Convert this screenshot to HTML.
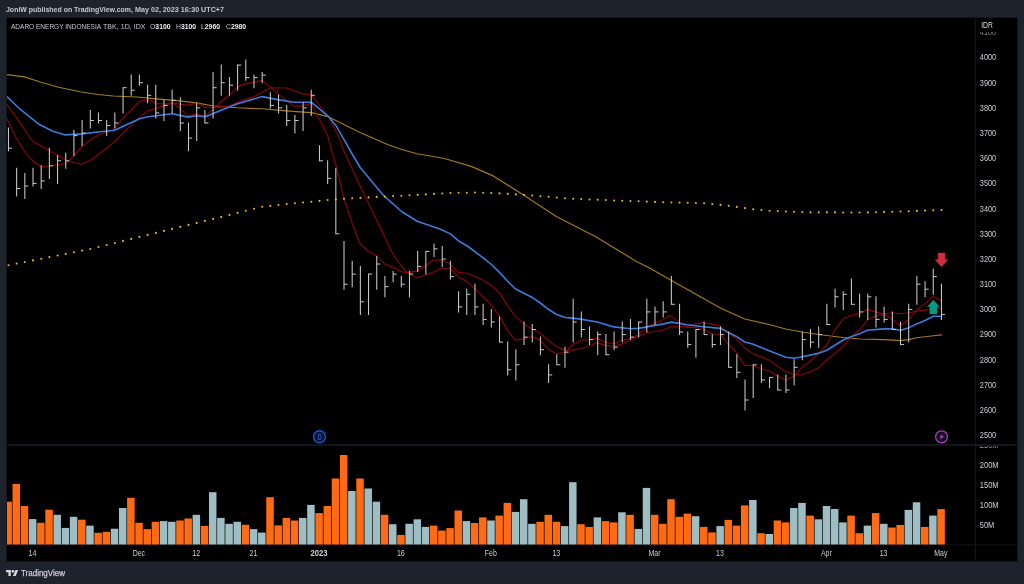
<!DOCTYPE html>
<html><head><meta charset="utf-8"><title>ADARO chart</title>
<style>
html,body{margin:0;padding:0;background:#1e222d;}
body{width:1024px;height:584px;position:relative;overflow:hidden;font-family:"Liberation Sans",sans-serif;}
.hdr{position:absolute;left:6.5px;top:4.5px;font-size:7.9px;font-weight:bold;color:#c5c8cf;white-space:nowrap;line-height:10px;transform-origin:0 0;transform:scaleX(0.891);}
.lg{position:absolute;left:11.3px;top:21.5px;font-size:7.1px;color:#c5c8cf;white-space:nowrap;line-height:10px;transform-origin:0 0;}
.lg b{color:#f0f1f4;}
.tv{position:absolute;left:21px;top:567px;font-size:8.3px;color:#c9ccd3;white-space:nowrap;line-height:12px;transform-origin:0 0;transform:scaleX(0.963);-webkit-text-stroke:0.25px #c9ccd3;}
</style></head><body>
<svg width="1024" height="584" viewBox="0 0 1024 584" style="position:absolute;left:0;top:0">
<rect x="6.5" y="17.5" width="1011" height="544" fill="#000" stroke="#14161d" stroke-width="1"/>
<line x1="7" y1="445.1" x2="1017" y2="445.1" stroke="#15161c" stroke-width="2"/>
<line x1="975.4" y1="18" x2="975.4" y2="561" stroke="#14161b" stroke-width="1"/>
<line x1="7" y1="544.8" x2="1017" y2="544.8" stroke="#14151b" stroke-width="1"/>
<clipPath id="c"><rect x="7" y="18" width="968" height="427"/></clipPath>
<rect x="7.00" y="501.7" width="4.87" height="42.8" fill="#ff6a14"/>
<rect x="12.55" y="484.0" width="7.50" height="60.5" fill="#ff6a14"/>
<rect x="20.74" y="506.0" width="7.50" height="38.5" fill="#ff6a14"/>
<rect x="28.92" y="519.1" width="7.50" height="25.4" fill="#9ebec3"/>
<rect x="37.11" y="522.8" width="7.50" height="21.7" fill="#ff6a14"/>
<rect x="45.29" y="509.7" width="7.50" height="34.8" fill="#ff6a14"/>
<rect x="53.47" y="514.8" width="7.50" height="29.7" fill="#9ebec3"/>
<rect x="61.66" y="527.9" width="7.50" height="16.6" fill="#9ebec3"/>
<rect x="69.84" y="516.8" width="7.50" height="27.7" fill="#9ebec3"/>
<rect x="78.03" y="519.7" width="7.50" height="24.8" fill="#ff6a14"/>
<rect x="86.21" y="525.6" width="7.50" height="18.9" fill="#9ebec3"/>
<rect x="94.39" y="532.8" width="7.50" height="11.7" fill="#ff6a14"/>
<rect x="102.58" y="531.8" width="7.50" height="12.7" fill="#ff6a14"/>
<rect x="110.76" y="528.7" width="7.50" height="15.8" fill="#9ebec3"/>
<rect x="118.95" y="508.0" width="7.50" height="36.5" fill="#9ebec3"/>
<rect x="127.13" y="497.8" width="7.50" height="46.7" fill="#ff6a14"/>
<rect x="135.31" y="522.8" width="7.50" height="21.7" fill="#ff6a14"/>
<rect x="143.50" y="529.1" width="7.50" height="15.4" fill="#ff6a14"/>
<rect x="151.68" y="521.8" width="7.50" height="22.7" fill="#ff6a14"/>
<rect x="159.87" y="521.1" width="7.50" height="23.4" fill="#9ebec3"/>
<rect x="168.05" y="521.8" width="7.50" height="22.7" fill="#9ebec3"/>
<rect x="176.23" y="520.5" width="7.50" height="24.0" fill="#ff6a14"/>
<rect x="184.42" y="518.5" width="7.50" height="26.0" fill="#ff6a14"/>
<rect x="192.60" y="514.8" width="7.50" height="29.7" fill="#9ebec3"/>
<rect x="200.79" y="525.9" width="7.50" height="18.6" fill="#ff6a14"/>
<rect x="208.97" y="492.2" width="7.50" height="52.3" fill="#9ebec3"/>
<rect x="217.15" y="517.9" width="7.50" height="26.6" fill="#9ebec3"/>
<rect x="225.34" y="523.8" width="7.50" height="20.7" fill="#9ebec3"/>
<rect x="233.52" y="521.8" width="7.50" height="22.7" fill="#9ebec3"/>
<rect x="241.71" y="524.8" width="7.50" height="19.7" fill="#ff6a14"/>
<rect x="249.89" y="529.1" width="7.50" height="15.4" fill="#9ebec3"/>
<rect x="258.07" y="532.6" width="7.50" height="11.9" fill="#9ebec3"/>
<rect x="266.26" y="497.2" width="7.50" height="47.3" fill="#ff6a14"/>
<rect x="274.44" y="525.4" width="7.50" height="19.1" fill="#ff6a14"/>
<rect x="282.63" y="517.9" width="7.50" height="26.6" fill="#ff6a14"/>
<rect x="290.81" y="520.5" width="7.50" height="24.0" fill="#ff6a14"/>
<rect x="298.99" y="517.9" width="7.50" height="26.6" fill="#9ebec3"/>
<rect x="307.18" y="504.9" width="7.50" height="39.6" fill="#9ebec3"/>
<rect x="315.36" y="513.1" width="7.50" height="31.4" fill="#ff6a14"/>
<rect x="323.55" y="506.0" width="7.50" height="38.5" fill="#ff6a14"/>
<rect x="331.73" y="478.5" width="7.50" height="66.0" fill="#ff6a14"/>
<rect x="339.91" y="455.0" width="7.50" height="89.5" fill="#ff6a14"/>
<rect x="348.10" y="491.0" width="7.50" height="53.5" fill="#9ebec3"/>
<rect x="356.28" y="478.5" width="7.50" height="66.0" fill="#ff6a14"/>
<rect x="364.47" y="488.5" width="7.50" height="56.0" fill="#9ebec3"/>
<rect x="372.65" y="501.7" width="7.50" height="42.8" fill="#9ebec3"/>
<rect x="380.83" y="514.8" width="7.50" height="29.7" fill="#ff6a14"/>
<rect x="389.02" y="524.2" width="7.50" height="20.3" fill="#9ebec3"/>
<rect x="397.20" y="534.9" width="7.50" height="9.6" fill="#ff6a14"/>
<rect x="405.39" y="523.8" width="7.50" height="20.7" fill="#9ebec3"/>
<rect x="413.57" y="519.3" width="7.50" height="25.2" fill="#9ebec3"/>
<rect x="421.75" y="526.9" width="7.50" height="17.6" fill="#9ebec3"/>
<rect x="429.94" y="525.6" width="7.50" height="18.9" fill="#ff6a14"/>
<rect x="438.12" y="530.6" width="7.50" height="13.9" fill="#ff6a14"/>
<rect x="446.31" y="528.1" width="7.50" height="16.4" fill="#ff6a14"/>
<rect x="454.49" y="510.5" width="7.50" height="34.0" fill="#ff6a14"/>
<rect x="462.67" y="521.1" width="7.50" height="23.4" fill="#9ebec3"/>
<rect x="470.86" y="523.0" width="7.50" height="21.5" fill="#ff6a14"/>
<rect x="479.04" y="517.4" width="7.50" height="27.1" fill="#ff6a14"/>
<rect x="487.23" y="520.5" width="7.50" height="24.0" fill="#9ebec3"/>
<rect x="495.41" y="515.6" width="7.50" height="28.9" fill="#ff6a14"/>
<rect x="503.59" y="502.9" width="7.50" height="41.6" fill="#ff6a14"/>
<rect x="511.78" y="511.9" width="7.50" height="32.6" fill="#9ebec3"/>
<rect x="519.96" y="499.2" width="7.50" height="45.3" fill="#9ebec3"/>
<rect x="528.15" y="523.8" width="7.50" height="20.7" fill="#9ebec3"/>
<rect x="536.33" y="521.8" width="7.50" height="22.7" fill="#ff6a14"/>
<rect x="544.51" y="514.8" width="7.50" height="29.7" fill="#ff6a14"/>
<rect x="552.70" y="521.8" width="7.50" height="22.7" fill="#ff6a14"/>
<rect x="560.88" y="526.1" width="7.50" height="18.4" fill="#9ebec3"/>
<rect x="569.07" y="482.2" width="7.50" height="62.3" fill="#9ebec3"/>
<rect x="577.25" y="524.2" width="7.50" height="20.3" fill="#ff6a14"/>
<rect x="585.43" y="526.9" width="7.50" height="17.6" fill="#ff6a14"/>
<rect x="593.62" y="517.4" width="7.50" height="27.1" fill="#9ebec3"/>
<rect x="601.80" y="521.1" width="7.50" height="23.4" fill="#ff6a14"/>
<rect x="609.99" y="522.4" width="7.50" height="22.1" fill="#ff6a14"/>
<rect x="618.17" y="512.3" width="7.50" height="32.2" fill="#9ebec3"/>
<rect x="626.35" y="514.8" width="7.50" height="29.7" fill="#ff6a14"/>
<rect x="634.54" y="528.9" width="7.50" height="15.6" fill="#9ebec3"/>
<rect x="642.72" y="487.9" width="7.50" height="56.6" fill="#9ebec3"/>
<rect x="650.91" y="514.8" width="7.50" height="29.7" fill="#ff6a14"/>
<rect x="659.09" y="523.8" width="7.50" height="20.7" fill="#ff6a14"/>
<rect x="667.27" y="499.2" width="7.50" height="45.3" fill="#ff6a14"/>
<rect x="675.46" y="516.8" width="7.50" height="27.7" fill="#ff6a14"/>
<rect x="683.64" y="513.6" width="7.50" height="30.9" fill="#ff6a14"/>
<rect x="691.83" y="516.2" width="7.50" height="28.3" fill="#9ebec3"/>
<rect x="700.01" y="526.9" width="7.50" height="17.6" fill="#ff6a14"/>
<rect x="708.19" y="532.4" width="7.50" height="12.1" fill="#ff6a14"/>
<rect x="716.38" y="526.1" width="7.50" height="18.4" fill="#9ebec3"/>
<rect x="724.56" y="519.9" width="7.50" height="24.6" fill="#ff6a14"/>
<rect x="732.75" y="525.6" width="7.50" height="18.9" fill="#ff6a14"/>
<rect x="740.93" y="505.4" width="7.50" height="39.1" fill="#ff6a14"/>
<rect x="749.11" y="500.0" width="7.50" height="44.5" fill="#9ebec3"/>
<rect x="757.30" y="533.2" width="7.50" height="11.3" fill="#ff6a14"/>
<rect x="765.48" y="534.0" width="7.50" height="10.5" fill="#9ebec3"/>
<rect x="773.67" y="520.5" width="7.50" height="24.0" fill="#ff6a14"/>
<rect x="781.85" y="522.4" width="7.50" height="22.1" fill="#ff6a14"/>
<rect x="790.03" y="508.0" width="7.50" height="36.5" fill="#9ebec3"/>
<rect x="798.22" y="502.9" width="7.50" height="41.6" fill="#9ebec3"/>
<rect x="806.40" y="515.6" width="7.50" height="28.9" fill="#ff6a14"/>
<rect x="814.59" y="519.3" width="7.50" height="25.2" fill="#9ebec3"/>
<rect x="822.77" y="506.0" width="7.50" height="38.5" fill="#9ebec3"/>
<rect x="830.95" y="509.0" width="7.50" height="35.5" fill="#9ebec3"/>
<rect x="839.14" y="522.4" width="7.50" height="22.1" fill="#9ebec3"/>
<rect x="847.32" y="515.6" width="7.50" height="28.9" fill="#ff6a14"/>
<rect x="855.51" y="533.2" width="7.50" height="11.3" fill="#ff6a14"/>
<rect x="863.69" y="525.6" width="7.50" height="18.9" fill="#9ebec3"/>
<rect x="871.87" y="513.1" width="7.50" height="31.4" fill="#ff6a14"/>
<rect x="880.06" y="523.8" width="7.50" height="20.7" fill="#9ebec3"/>
<rect x="888.24" y="527.5" width="7.50" height="17.0" fill="#ff6a14"/>
<rect x="896.43" y="525.0" width="7.50" height="19.5" fill="#ff6a14"/>
<rect x="904.61" y="509.9" width="7.50" height="34.6" fill="#9ebec3"/>
<rect x="912.79" y="502.3" width="7.50" height="42.2" fill="#9ebec3"/>
<rect x="920.98" y="526.9" width="7.50" height="17.6" fill="#ff6a14"/>
<rect x="929.16" y="515.6" width="7.50" height="28.9" fill="#9ebec3"/>
<rect x="937.35" y="509.1" width="7.50" height="35.4" fill="#ff6a14"/>
<g clip-path="url(#c)" fill="none" stroke-linejoin="round" stroke-linecap="round">
<polyline points="6.4,74.5 24.4,76.9 41.0,82.3 58.6,87.2 80.0,91.7 97.7,94.5 113.3,96.0 136.7,97.0 156.3,98.9 179.7,100.9 196.7,102.9 213.3,106.0 236.7,107.8 262.1,108.8 280.0,110.4 300.0,111.9 311.3,112.6 328.8,116.9 360.0,132.5 389.4,145.2 403.5,150.0 417.2,153.7 444.5,158.5 471.9,166.6 493.2,175.9 523.1,194.8 556.3,216.4 596.2,237.0 636.0,261.2 650.0,268.2 671.5,280.5 695.9,294.2 720.3,307.9 744.7,319.0 769.1,324.5 786.7,329.3 802.3,332.0 818.4,334.5 843.0,337.5 859.6,339.0 884.0,339.6 900.6,340.6 908.4,339.6 916.6,337.7 933.4,335.7 941.6,334.9" stroke="#a27b1c" stroke-width="1.15"/>
<polyline points="6.4,103.7 19.5,122.2 32.2,140.8 48.8,150.5 66.4,160.3 81.0,164.2 89.8,160.7 100.0,153.3 113.7,142.5 135.2,121.1 147.9,110.7 156.6,108.4 172.3,102.9 187.9,105.4 196.7,102.9 205.5,107.4 213.3,107.4 228.9,106.4 244.5,99.6 254.3,96.6 269.9,87.9 286.6,88.0 301.5,93.4 311.3,95.0 328.8,116.9 338.6,136.4 343.4,150.0 360.5,187.1 378.5,224.0 391.8,252.0 400.6,265.0 407.4,272.9 417.2,270.9 425.0,266.0 432.8,260.5 441.6,259.8 450.4,264.1 458.2,272.3 467.0,273.2 475.8,276.8 482.9,280.0 491.4,285.5 499.5,292.9 507.3,305.4 515.2,316.1 523.9,323.9 531.8,328.8 539.6,332.7 548.4,340.5 556.2,346.4 565.0,350.3 572.8,349.9 580.6,348.8 588.4,346.0 597.2,342.9 606.0,345.4 613.8,346.4 621.6,344.1 630.4,340.5 638.2,336.6 647.0,332.7 655.8,331.2 662.7,330.2 670.5,326.8 687.1,326.8 695.9,323.5 703.7,322.9 711.5,323.9 720.3,325.9 728.1,332.7 735.9,338.6 744.7,347.7 752.5,353.2 761.3,357.1 769.1,360.0 776.9,365.9 785.7,371.8 794.5,374.7 802.3,374.7 810.2,371.8 818.0,367.9 826.8,360.0 835.2,353.3 843.0,346.4 850.8,337.7 859.6,329.8 867.4,320.1 875.8,315.8 884.0,314.2 891.8,312.7 900.6,313.8 908.4,312.7 916.7,311.2 925.3,310.1 930.4,309.1 937.9,308.1 941.2,308.1" stroke="#8a0509" stroke-width="1.15"/>
<polyline points="6.4,117.8 15.6,137.0 25.4,152.6 33.2,161.4 41.0,166.7 50.8,165.8 66.4,163.2 82.0,146.6 91.8,138.8 99.6,134.5 113.3,130.0 123.2,117.8 139.3,101.4 147.7,99.7 156.5,103.6 166.0,104.0 172.1,102.8 179.0,107.4 187.7,115.8 196.0,114.3 205.5,116.2 221.1,101.5 228.9,95.7 237.7,86.9 245.5,83.9 262.1,80.4 269.9,86.9 280.0,95.4 293.7,106.1 301.5,106.1 311.3,103.2 319.0,118.8 327.9,136.4 331.3,150.0 335.7,163.8 344.0,198.8 352.7,225.0 359.6,243.0 368.4,251.5 376.2,255.4 385.0,264.1 392.8,267.0 400.6,271.5 408.4,272.9 417.2,277.7 426.0,274.8 433.8,271.9 441.6,268.0 450.4,268.4 458.2,276.8 467.0,281.6 475.8,289.5 480.0,293.7 490.7,304.4 499.5,316.1 507.3,330.4 515.2,340.2 523.9,338.6 531.8,336.6 539.6,339.6 548.4,349.3 556.2,353.8 565.0,352.3 572.8,344.5 580.6,340.2 588.4,339.6 597.2,338.2 606.0,342.5 613.8,343.5 621.6,340.5 630.4,338.6 638.2,334.7 647.0,326.9 655.8,323.0 662.7,319.8 670.5,315.6 679.3,322.1 687.1,327.4 695.9,327.4 703.7,329.3 711.5,333.8 720.3,334.4 728.1,343.7 735.9,352.0 744.7,365.4 752.5,365.4 761.3,368.8 769.1,370.8 776.9,375.7 785.7,380.2 794.5,375.7 802.3,366.9 810.2,361.0 818.3,353.8 826.6,345.0 834.8,329.8 843.0,319.1 850.8,315.2 859.6,313.8 867.4,309.3 875.8,311.9 884.0,314.2 891.8,319.1 900.6,325.5 909.9,318.4 916.7,310.1 925.3,303.6 933.2,296.3 941.2,301.1" stroke="#8a0509" stroke-width="1.15"/>
<polyline points="6.4,96.0 19.5,108.7 39.0,124.3 52.7,131.2 65.4,134.9 82.0,133.9 100.0,131.8 114.6,130.2 139.0,119.1 147.9,116.8 172.3,113.8 187.9,117.1 196.7,115.8 205.5,116.8 221.1,110.3 236.7,104.1 262.1,96.6 277.7,99.6 293.7,102.2 311.3,102.2 328.8,116.9 336.6,126.6 344.5,140.3 349.8,150.0 360.5,168.0 384.0,195.9 401.6,211.5 417.2,221.3 440.6,229.2 450.4,233.9 458.2,240.7 468.0,246.5 483.6,258.2 491.4,264.5 500.0,272.9 506.4,280.0 515.2,288.8 531.8,297.2 539.6,302.5 548.4,309.3 556.2,314.2 565.0,317.5 572.8,318.1 580.6,319.1 597.2,322.0 613.8,326.9 630.4,328.8 638.2,328.4 647.0,326.9 663.6,323.9 671.5,322.1 687.1,324.8 703.7,326.8 720.3,328.4 735.9,336.2 744.7,342.0 752.5,344.0 769.1,350.8 785.7,357.3 794.5,358.2 802.3,356.7 818.0,353.4 826.8,350.2 843.2,340.0 850.8,336.7 859.6,333.8 867.4,330.2 884.0,328.9 891.8,328.9 900.6,330.2 908.4,327.9 916.6,324.0 925.0,320.5 933.4,316.2 941.6,316.2" stroke="#3c7bdc" stroke-width="1.6"/>
</g>
<g fill="#e6b32e">
<circle cx="8.5" cy="265.3" r="1.05"/>
<circle cx="16.6" cy="263.6" r="1.05"/>
<circle cx="24.8" cy="262.0" r="1.05"/>
<circle cx="33.0" cy="260.4" r="1.05"/>
<circle cx="41.2" cy="258.8" r="1.05"/>
<circle cx="49.4" cy="257.1" r="1.05"/>
<circle cx="57.6" cy="255.5" r="1.05"/>
<circle cx="65.7" cy="253.9" r="1.05"/>
<circle cx="73.9" cy="252.3" r="1.05"/>
<circle cx="82.1" cy="250.6" r="1.05"/>
<circle cx="90.3" cy="249.0" r="1.05"/>
<circle cx="98.5" cy="247.0" r="1.05"/>
<circle cx="106.7" cy="245.0" r="1.05"/>
<circle cx="114.9" cy="243.0" r="1.05"/>
<circle cx="123.0" cy="240.9" r="1.05"/>
<circle cx="131.2" cy="238.9" r="1.05"/>
<circle cx="139.4" cy="236.9" r="1.05"/>
<circle cx="147.6" cy="234.9" r="1.05"/>
<circle cx="155.8" cy="232.9" r="1.05"/>
<circle cx="164.0" cy="230.9" r="1.05"/>
<circle cx="172.1" cy="228.9" r="1.05"/>
<circle cx="180.3" cy="226.9" r="1.05"/>
<circle cx="188.5" cy="224.9" r="1.05"/>
<circle cx="196.7" cy="222.9" r="1.05"/>
<circle cx="204.9" cy="220.9" r="1.05"/>
<circle cx="213.1" cy="218.9" r="1.05"/>
<circle cx="221.2" cy="216.9" r="1.05"/>
<circle cx="229.4" cy="214.9" r="1.05"/>
<circle cx="237.6" cy="212.9" r="1.05"/>
<circle cx="245.8" cy="210.8" r="1.05"/>
<circle cx="254.0" cy="208.8" r="1.05"/>
<circle cx="262.2" cy="206.7" r="1.05"/>
<circle cx="270.3" cy="205.9" r="1.05"/>
<circle cx="278.5" cy="205.0" r="1.05"/>
<circle cx="286.7" cy="204.1" r="1.05"/>
<circle cx="294.9" cy="203.2" r="1.05"/>
<circle cx="303.1" cy="202.5" r="1.05"/>
<circle cx="311.3" cy="201.7" r="1.05"/>
<circle cx="319.5" cy="200.9" r="1.05"/>
<circle cx="327.6" cy="200.0" r="1.05"/>
<circle cx="335.8" cy="199.3" r="1.05"/>
<circle cx="344.0" cy="198.8" r="1.05"/>
<circle cx="352.2" cy="198.3" r="1.05"/>
<circle cx="360.4" cy="197.9" r="1.05"/>
<circle cx="368.6" cy="197.4" r="1.05"/>
<circle cx="376.7" cy="196.9" r="1.05"/>
<circle cx="384.9" cy="196.5" r="1.05"/>
<circle cx="393.1" cy="196.1" r="1.05"/>
<circle cx="401.3" cy="195.7" r="1.05"/>
<circle cx="409.5" cy="195.3" r="1.05"/>
<circle cx="417.7" cy="194.9" r="1.05"/>
<circle cx="425.8" cy="194.4" r="1.05"/>
<circle cx="434.0" cy="193.9" r="1.05"/>
<circle cx="442.2" cy="193.5" r="1.05"/>
<circle cx="450.4" cy="193.0" r="1.05"/>
<circle cx="458.6" cy="192.8" r="1.05"/>
<circle cx="466.8" cy="192.7" r="1.05"/>
<circle cx="474.9" cy="192.5" r="1.05"/>
<circle cx="483.1" cy="192.8" r="1.05"/>
<circle cx="491.3" cy="193.1" r="1.05"/>
<circle cx="499.5" cy="193.4" r="1.05"/>
<circle cx="507.7" cy="193.9" r="1.05"/>
<circle cx="515.9" cy="194.4" r="1.05"/>
<circle cx="524.1" cy="194.9" r="1.05"/>
<circle cx="532.2" cy="195.5" r="1.05"/>
<circle cx="540.4" cy="196.2" r="1.05"/>
<circle cx="548.6" cy="196.8" r="1.05"/>
<circle cx="556.8" cy="197.5" r="1.05"/>
<circle cx="565.0" cy="198.2" r="1.05"/>
<circle cx="573.2" cy="198.8" r="1.05"/>
<circle cx="581.3" cy="199.1" r="1.05"/>
<circle cx="589.5" cy="199.5" r="1.05"/>
<circle cx="597.7" cy="199.8" r="1.05"/>
<circle cx="605.9" cy="200.1" r="1.05"/>
<circle cx="614.1" cy="200.5" r="1.05"/>
<circle cx="622.3" cy="200.8" r="1.05"/>
<circle cx="630.4" cy="201.1" r="1.05"/>
<circle cx="638.6" cy="201.3" r="1.05"/>
<circle cx="646.8" cy="201.6" r="1.05"/>
<circle cx="655.0" cy="201.9" r="1.05"/>
<circle cx="663.2" cy="202.2" r="1.05"/>
<circle cx="671.4" cy="202.5" r="1.05"/>
<circle cx="679.5" cy="202.6" r="1.05"/>
<circle cx="687.7" cy="202.8" r="1.05"/>
<circle cx="695.9" cy="203.0" r="1.05"/>
<circle cx="704.1" cy="203.3" r="1.05"/>
<circle cx="712.3" cy="204.1" r="1.05"/>
<circle cx="720.5" cy="204.9" r="1.05"/>
<circle cx="728.7" cy="205.8" r="1.05"/>
<circle cx="736.8" cy="206.9" r="1.05"/>
<circle cx="745.0" cy="208.1" r="1.05"/>
<circle cx="753.2" cy="209.2" r="1.05"/>
<circle cx="761.4" cy="210.0" r="1.05"/>
<circle cx="769.6" cy="210.8" r="1.05"/>
<circle cx="777.8" cy="211.1" r="1.05"/>
<circle cx="785.9" cy="211.5" r="1.05"/>
<circle cx="794.1" cy="211.8" r="1.05"/>
<circle cx="802.3" cy="212.1" r="1.05"/>
<circle cx="810.5" cy="212.4" r="1.05"/>
<circle cx="818.7" cy="212.4" r="1.05"/>
<circle cx="826.9" cy="212.4" r="1.05"/>
<circle cx="835.0" cy="212.4" r="1.05"/>
<circle cx="843.2" cy="212.5" r="1.05"/>
<circle cx="851.4" cy="212.5" r="1.05"/>
<circle cx="859.6" cy="212.5" r="1.05"/>
<circle cx="867.8" cy="212.4" r="1.05"/>
<circle cx="876.0" cy="212.2" r="1.05"/>
<circle cx="884.1" cy="211.9" r="1.05"/>
<circle cx="892.3" cy="211.7" r="1.05"/>
<circle cx="900.5" cy="211.5" r="1.05"/>
<circle cx="908.7" cy="211.2" r="1.05"/>
<circle cx="916.9" cy="210.9" r="1.05"/>
<circle cx="925.1" cy="210.6" r="1.05"/>
<circle cx="933.3" cy="210.3" r="1.05"/>
<circle cx="941.4" cy="210.0" r="1.05"/>
</g>
<g stroke="#c9cacc" fill="none" clip-path="url(#c)">
<path d="M8.46 127.5V151.2M16.64 167.8V196.5M24.83 172.9V199.0M33.01 167.8V186.5M41.20 165.3V189.0M49.38 147.7V178.9M57.56 155.2V183.9M65.75 152.7V168.8M73.93 130.0V156.2M82.12 120.0V146.2M90.30 109.9V128.5M98.48 112.4V123.5M106.67 120.0V136.1M114.85 112.4V128.5M123.04 87.2V113.4M131.22 74.6V95.8M139.40 74.6V85.7M147.59 84.7V103.3M155.77 84.7V118.4M163.96 99.8V121.0M172.14 89.7V113.4M180.32 97.3V131.0M188.51 122.5V151.2M196.69 102.3V141.1M204.88 109.9V123.5M213.06 72.1V118.4M221.24 64.6V95.8M229.43 77.1V95.8M237.61 64.6V90.7M245.80 59.5V80.7M253.98 74.6V88.2M262.16 72.1V83.2M270.35 92.3V108.4M278.53 94.8V113.4M286.72 104.9V126.0M294.90 114.9V133.6M303.08 102.3V131.0M311.27 89.7V115.9M319.45 145.2V161.3M327.64 160.3V183.9M335.82 167.8V234.3M344.00 240.9V289.7M352.19 261.0V287.2M360.37 266.1V314.9M368.56 273.6V314.9M376.74 256.0V289.7M384.92 276.1V297.3M393.11 271.1V282.2M401.29 276.1V287.2M409.48 271.1V297.3M417.66 250.9V272.1M425.84 250.9V274.6M434.03 243.4V257.0M442.21 245.9V267.1M450.40 261.0V279.6M458.58 291.2V312.4M466.76 288.7V314.9M474.95 283.7V314.9M483.13 303.8V325.0M491.32 308.9V327.5M499.50 316.4V342.6M507.68 341.6V375.4M515.87 349.2V380.4M524.05 321.5V345.1M532.24 324.0V342.6M540.42 336.6V355.2M548.60 364.3V382.9M556.79 354.2V365.3M564.97 346.7V367.8M573.16 298.8V342.6M581.34 311.4V337.6M589.52 326.5V345.1M597.71 331.5V355.2M605.89 334.1V355.2M614.08 331.5V350.2M622.26 321.5V342.6M630.44 318.9V340.1M638.63 321.5V337.6M646.81 298.8V332.5M655.00 306.4V325.0M663.18 301.3V317.4M671.36 276.1V304.8M679.55 303.8V335.1M687.73 331.5V347.7M695.92 329.0V357.7M704.10 321.5V335.1M712.28 334.1V347.7M720.47 326.5V345.1M728.65 331.5V367.8M736.84 354.2V377.9M745.02 379.4V410.6M753.20 364.3V398.0M761.39 364.3V382.9M769.57 376.9V387.9M777.76 374.4V390.5M785.94 374.4V393.0M794.12 359.2V385.4M802.31 331.5V360.2M810.49 329.0V347.7M818.68 326.5V347.7M826.86 303.8V325.0M835.04 288.7V307.4M843.23 291.2V309.9M851.41 278.6V304.8M859.60 293.8V317.4M867.78 293.8V319.9M875.96 296.3V327.5M884.15 306.4V322.5M892.33 311.4V330.0M900.52 321.5V345.1M908.70 303.8V342.6M916.88 276.1V304.8M925.07 281.2V297.3M933.25 268.6V294.8M941.44 283.7V319.9" stroke-width="1.05"/>
<path d="M8.46 148.2h3.6M16.64 188.5h3.6M24.83 186.0h3.6M33.01 183.4h3.6M41.20 180.9h3.6M49.38 165.8h3.6M57.56 160.8h3.6M65.75 160.8h3.6M73.93 135.6h3.6M82.12 133.1h3.6M90.30 120.5h3.6M98.48 120.5h3.6M106.67 125.5h3.6M114.85 123.0h3.6M123.04 87.7h3.6M131.22 90.2h3.6M139.40 82.7h3.6M147.59 95.3h3.6M155.77 112.9h3.6M163.96 105.4h3.6M172.14 100.3h3.6M180.32 123.0h3.6M188.51 138.1h3.6M196.69 107.9h3.6M204.88 123.0h3.6M213.06 87.7h3.6M221.24 82.7h3.6M229.43 85.2h3.6M237.61 65.1h3.6M245.80 77.6h3.6M253.98 77.6h3.6M262.16 75.1h3.6M270.35 105.4h3.6M278.53 107.9h3.6M286.72 120.5h3.6M294.90 120.5h3.6M303.08 107.9h3.6M311.27 95.3h3.6M319.45 160.8h3.6M327.64 178.4h3.6M335.82 233.8h3.6M344.00 284.2h3.6M352.19 274.1h3.6M360.37 301.8h3.6M368.56 274.1h3.6M376.74 264.0h3.6M384.92 286.7h3.6M393.11 274.1h3.6M401.29 284.2h3.6M409.48 274.1h3.6M417.66 266.6h3.6M425.84 251.4h3.6M434.03 248.9h3.6M442.21 259.0h3.6M450.40 276.6h3.6M458.58 306.9h3.6M466.76 294.3h3.6M474.95 306.9h3.6M483.13 319.4h3.6M491.32 322.0h3.6M499.50 342.1h3.6M507.68 369.8h3.6M515.87 364.8h3.6M524.05 337.1h3.6M532.24 329.5h3.6M540.42 349.7h3.6M548.60 374.9h3.6M556.79 364.8h3.6M564.97 352.2h3.6M573.16 322.0h3.6M581.34 329.5h3.6M589.52 339.6h3.6M597.71 334.6h3.6M605.89 354.7h3.6M614.08 347.2h3.6M622.26 334.6h3.6M630.44 337.1h3.6M638.63 322.0h3.6M646.81 311.9h3.6M655.00 311.9h3.6M663.18 311.9h3.6M671.36 304.3h3.6M679.55 332.0h3.6M687.73 344.6h3.6M695.92 329.5h3.6M704.10 334.6h3.6M712.28 344.6h3.6M720.47 334.6h3.6M728.65 367.3h3.6M736.84 372.3h3.6M745.02 400.0h3.6M753.20 364.8h3.6M761.39 379.9h3.6M769.57 377.4h3.6M777.76 390.0h3.6M785.94 390.0h3.6M794.12 367.3h3.6M802.31 339.6h3.6M810.49 342.1h3.6M818.68 334.6h3.6M826.86 324.5h3.6M835.04 296.8h3.6M843.23 294.3h3.6M851.41 304.3h3.6M859.60 311.9h3.6M867.78 296.8h3.6M875.96 319.4h3.6M884.15 319.4h3.6M892.33 329.5h3.6M900.52 344.6h3.6M908.70 309.4h3.6M916.88 284.2h3.6M925.07 289.2h3.6M933.25 276.6h3.6M941.44 314.4h3.6" stroke-width="1"/>
</g>
<path d="M938.05 252.9h7v6.5h3l-6.5 7.7l-6.5-7.700h3z" fill="#cf2e3f" stroke="#cf2e3f" stroke-width="0.3" stroke-linejoin="round"/>
<path d="M929.8 313.9h7.2v-7.2h2.5l-6.1-6.8l-6.1 6.8h2.5z" fill="#099981" stroke="#099981" stroke-width="0.3" stroke-linejoin="round"/>
<circle cx="319.55" cy="436.8" r="5.95" fill="#10141e" stroke="#1e53d2" stroke-width="1.5"/>
<text x="317.5" y="439.8" font-family="Liberation Sans, sans-serif" font-size="8.2" font-weight="bold" fill="#1e53d2" textLength="4.3" lengthAdjust="spacingAndGlyphs">D</text>
<circle cx="941.55" cy="436.8" r="5.95" fill="#10121b" stroke="#a03db0" stroke-width="1.4"/>
<path d="M943.3 433.7l-4.2 3.6h2.3l-1.5 2.7l4.2-3.7h-2.3z" fill="#b34cc4"/>
<g font-family="Liberation Sans, sans-serif" font-size="8.6" fill="#cdd0d6">
<text x="979.8" y="438.2" textLength="16.4" lengthAdjust="spacingAndGlyphs">2500</text>
<text x="979.8" y="413.0" textLength="16.4" lengthAdjust="spacingAndGlyphs">2600</text>
<text x="979.8" y="387.8" textLength="16.4" lengthAdjust="spacingAndGlyphs">2700</text>
<text x="979.8" y="362.6" textLength="16.4" lengthAdjust="spacingAndGlyphs">2800</text>
<text x="979.8" y="337.4" textLength="16.4" lengthAdjust="spacingAndGlyphs">2900</text>
<text x="979.8" y="312.2" textLength="16.4" lengthAdjust="spacingAndGlyphs">3000</text>
<text x="979.8" y="287.0" textLength="16.4" lengthAdjust="spacingAndGlyphs">3100</text>
<text x="979.8" y="261.8" textLength="16.4" lengthAdjust="spacingAndGlyphs">3200</text>
<text x="979.8" y="236.7" textLength="16.4" lengthAdjust="spacingAndGlyphs">3300</text>
<text x="979.8" y="211.5" textLength="16.4" lengthAdjust="spacingAndGlyphs">3400</text>
<text x="979.8" y="186.3" textLength="16.4" lengthAdjust="spacingAndGlyphs">3500</text>
<text x="979.8" y="161.1" textLength="16.4" lengthAdjust="spacingAndGlyphs">3600</text>
<text x="979.8" y="135.9" textLength="16.4" lengthAdjust="spacingAndGlyphs">3700</text>
<text x="979.8" y="110.7" textLength="16.4" lengthAdjust="spacingAndGlyphs">3800</text>
<text x="979.8" y="85.5" textLength="16.4" lengthAdjust="spacingAndGlyphs">3900</text>
<text x="979.8" y="60.4" textLength="16.4" lengthAdjust="spacingAndGlyphs">4000</text>
</g>
<rect x="976" y="18" width="41" height="12.5" fill="#000"/>
<text x="981.2" y="28.4" font-family="Liberation Sans, sans-serif" font-size="8.6" fill="#d5d7dc" textLength="11.6" lengthAdjust="spacingAndGlyphs">IDR</text>
<clipPath id="c3"><rect x="976" y="32" width="41" height="3.2"/></clipPath>
<text x="979.8" y="35.2" font-family="Liberation Sans, sans-serif" font-size="8.6" fill="#80838b" textLength="16.4" lengthAdjust="spacingAndGlyphs" clip-path="url(#c3)">4100</text>
<g font-family="Liberation Sans, sans-serif" font-size="8.6" fill="#cdd0d6">
<text x="979.8" y="467.8" textLength="18.8" lengthAdjust="spacingAndGlyphs">200M</text>
<text x="979.8" y="488.1" textLength="18.8" lengthAdjust="spacingAndGlyphs">150M</text>
<text x="979.8" y="508.1" textLength="18.8" lengthAdjust="spacingAndGlyphs">100M</text>
<text x="979.8" y="527.5" textLength="14.4" lengthAdjust="spacingAndGlyphs">50M</text>
</g>
<clipPath id="c4"><rect x="976" y="446.2" width="41" height="4"/></clipPath>
<text x="979.8" y="447.6" font-family="Liberation Sans, sans-serif" font-size="8.6" fill="#9a9da5" textLength="18.8" lengthAdjust="spacingAndGlyphs" clip-path="url(#c4)">250M</text>
<g font-family="Liberation Sans, sans-serif" font-size="8.5" fill="#cdd0d6">
<text x="28.6" y="556" textLength="7.8" lengthAdjust="spacingAndGlyphs">14</text>
<text x="132.7" y="556" textLength="12.4" lengthAdjust="spacingAndGlyphs">Dec</text>
<text x="192.3" y="556" textLength="7.8" lengthAdjust="spacingAndGlyphs">12</text>
<text x="249.6" y="556" textLength="7.8" lengthAdjust="spacingAndGlyphs">21</text>
<text x="310.4" y="556" font-weight="bold" textLength="17.0" lengthAdjust="spacingAndGlyphs">2023</text>
<text x="396.9" y="556" textLength="7.8" lengthAdjust="spacingAndGlyphs">16</text>
<text x="484.8" y="556" textLength="12.0" lengthAdjust="spacingAndGlyphs">Feb</text>
<text x="552.4" y="556" textLength="7.8" lengthAdjust="spacingAndGlyphs">13</text>
<text x="648.5" y="556" textLength="12.0" lengthAdjust="spacingAndGlyphs">Mar</text>
<text x="716.1" y="556" textLength="7.8" lengthAdjust="spacingAndGlyphs">13</text>
<text x="820.9" y="556" textLength="10.8" lengthAdjust="spacingAndGlyphs">Apr</text>
<text x="879.7" y="556" textLength="7.8" lengthAdjust="spacingAndGlyphs">13</text>
<text x="934.3" y="556" textLength="13.2" lengthAdjust="spacingAndGlyphs">May</text>
</g>
</svg>
<div class="hdr" id="hdr" style="left:5.9px;transform:scaleX(0.883)">JoniW published on TradingView.com,</div>
<div class="hdr" id="hdr2" style="left:135.4px;transform:scaleX(0.9077)">May 02, 2023 16:30 UTC+7</div>
<div class="lg" id="lg0" style="left:11.3px;transform:scaleX(0.9187)">ADARO ENERGY INDONESIA</div>
<div class="lg" id="lg5" style="left:103px;transform:scaleX(0.998)">TBK, 1D, IDX</div>
<div class="lg" id="lg1" style="left:150px;transform:scaleX(0.965)">O<b>3100</b></div>
<div class="lg" id="lg2" style="left:175.75px;transform:scaleX(0.965)">H<b>3100</b></div>
<div class="lg" id="lg3" style="left:201.25px;transform:scaleX(0.965)">L<b>2960</b></div>
<div class="lg" id="lg4" style="left:225.5px;transform:scaleX(0.965)">C<b>2980</b></div>
<svg width="13" height="7" viewBox="0 4 36 18" style="position:absolute;left:6px;top:569.6px;width:12.4px;height:6.1px" preserveAspectRatio="none"><path d="M14 22H7V11H0V4h14v18z M28 22h-8l7.5-18h8L28 22z" fill="#d5d7dc"/><circle cx="20" cy="8" r="4" fill="#d5d7dc"/></svg>
<div class="tv" id="tv">TradingView</div>
</body></html>
